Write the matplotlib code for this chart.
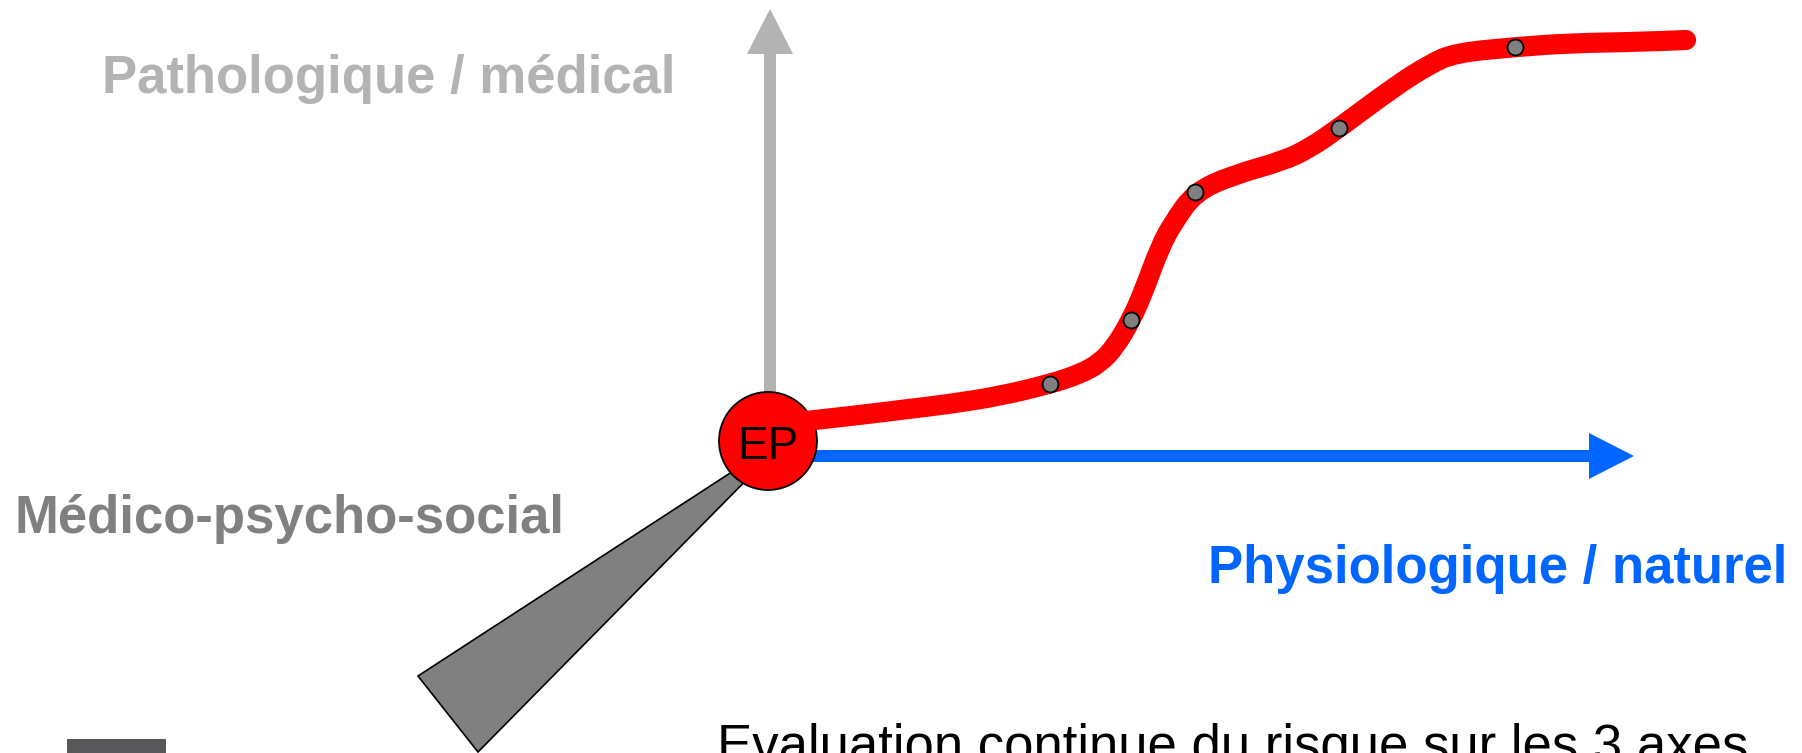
import matplotlib.pyplot as plt
from matplotlib import patches
from matplotlib.path import Path

# donnees (coordonnees en pixels, y vers le bas)
curve_x = [806, 860, 900, 950, 1000, 1050, 1080, 1100, 1115, 1131, 1143, 1160, 1173, 1195,
           1233, 1283, 1310, 1339, 1394, 1430, 1455, 1515, 1573, 1640, 1686]
curve_y = [421, 415, 410, 404, 396, 384, 374, 363, 347, 320, 293, 247, 223, 192,
           175, 161, 148, 128, 87, 64, 53, 47, 43, 42, 40]
point_x = [1050, 1131, 1195, 1339, 1515]
point_y = [384, 320, 192, 128, 47]

wedge = [(418, 676), (478, 752), (770, 456), (764, 451)]

label_patho = "Pathologique / médical"
label_mps = "Médico-psycho-social"
label_physio = "Physiologique / naturel"
label_bottom = "Evaluation continue du risque sur les 3 axes"

W, H = 1802, 753
fig = plt.figure(figsize=(W / 100, H / 100), dpi=100)
ax = fig.add_axes([0, 0, 1, 1])
ax.set_xlim(0, W)
ax.set_ylim(H, 0)
ax.axis('off')

font = ['Liberation Sans', 'DejaVu Sans']

# axes du schema
ax.arrow(770, 400, 0, -391, width=12, head_width=46, head_length=45,
         length_includes_head=True, color='#b3b3b3', lw=0, zorder=1)
ax.arrow(790, 456, 844, 0, width=12, head_width=46, head_length=45,
         length_includes_head=True, color='#0066ff', lw=0, zorder=1)
ax.add_patch(patches.Polygon(wedge, closed=True, facecolor='#808080',
                             edgecolor='black', lw=1.2, zorder=1))

# carre gris en bas a gauche
ax.add_patch(patches.Rectangle((67, 739), 99, 20, facecolor='#58585a', lw=0, zorder=1))

# cercle EP
ax.add_patch(patches.Circle((768, 441), 49, facecolor='#ff0000', edgecolor='black',
                            lw=1.3, zorder=2))
ax.text(768, 459, "EP", ha='center', va='baseline', fontsize=33, family=font,
        color='black', zorder=5)

# courbe de risque : les points lus servent de points de controle (bezier quadratique)
pts = list(zip(curve_x, curve_y))
verts = [pts[0]]
codes = [Path.MOVETO]
for i in range(1, len(pts) - 1):
    nxt = pts[i + 1] if i == len(pts) - 2 else ((pts[i][0] + pts[i + 1][0]) / 2,
                                                 (pts[i][1] + pts[i + 1][1]) / 2)
    verts += [pts[i], nxt]
    codes += [Path.CURVE3, Path.CURVE3]
ax.add_patch(patches.PathPatch(Path(verts, codes), facecolor='none', edgecolor='#ff0000',
                               lw=14.5, capstyle='round', joinstyle='round', zorder=3))
ax.plot(point_x, point_y, 'o', ms=11.5, mfc='#808080', mec='black', mew=1.3, zorder=4)

# textes
ax.text(102, 93, label_patho, fontsize=38, fontweight='bold', color='#b3b3b3',
        family=font, va='baseline')
ax.text(15, 533, label_mps, fontsize=38, fontweight='bold', color='#808080',
        family=font, va='baseline')
ax.text(1208, 583, label_physio, fontsize=38, fontweight='bold', color='#0066ff',
        family=font, va='baseline')
ax.text(717, 762, label_bottom, fontsize=38, color='black', family=font, va='baseline')

fig.savefig('out.png', dpi=100)
